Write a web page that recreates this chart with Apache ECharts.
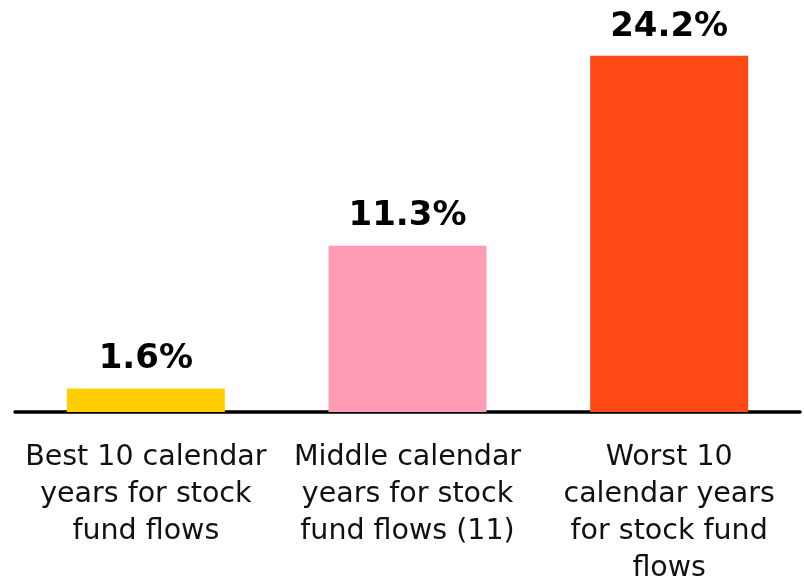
<!DOCTYPE html>
<html>
<head>
<meta charset="utf-8">
<script src="https://cdn.jsdelivr.net/npm/echarts@6/dist/echarts.min.js"></script>
<style>
  html, body { margin: 0; padding: 0; background: #fff; }
  #chart { width: 804px; height: 587px; }
</style>
</head>
<body>
<div id="chart"></div>
<script>
// categories and values
const categories = [
  "Best 10 calendar\nyears for stock\nfund flows",
  "Middle calendar\nyears for stock\nfund flows (11)",
  "Worst 10\ncalendar years\nfor stock fund\nflows",
];
const values = [1.6, 11.3, 24.2];
const barColors = ["#FFCE00", "#FF9BB5", "#FF4A17"];

const chart = echarts.init(document.getElementById("chart"), null, { renderer: "canvas" });

const option = {
  animation: false,
  grid: { left: 15, right: 4, top: 44, bottom: 172, containLabel: false },
  xAxis: {
    type: "category",
    data: categories,
    axisLine: { lineStyle: { color: "#000", width: 3.5 } },
    axisTick: { show: false },
    axisLabel: {
      interval: 0,
      margin: 27,
      color: "#111",
      fontFamily: "DejaVu Sans, sans-serif",
      fontSize: 28.5,
      lineHeight: 37,
    },
  },
  yAxis: {
    type: "value",
    min: 0,
    max: 25,
    show: false,
  },
  series: [
    {
      type: "bar",
      barWidth: 158,
      data: values.map((v, i) => ({ value: v, itemStyle: { color: barColors[i] } })),
      label: {
        show: true,
        position: "top",
        distance: 12,
        formatter: (p) => p.value.toFixed(1) + "%",
        color: "#000",
        fontWeight: "bold",
        fontSize: 34,
        fontFamily: "DejaVu Sans, sans-serif",
      },
    },
  ],
};
chart.setOption(option);
</script>
</body>
</html>
